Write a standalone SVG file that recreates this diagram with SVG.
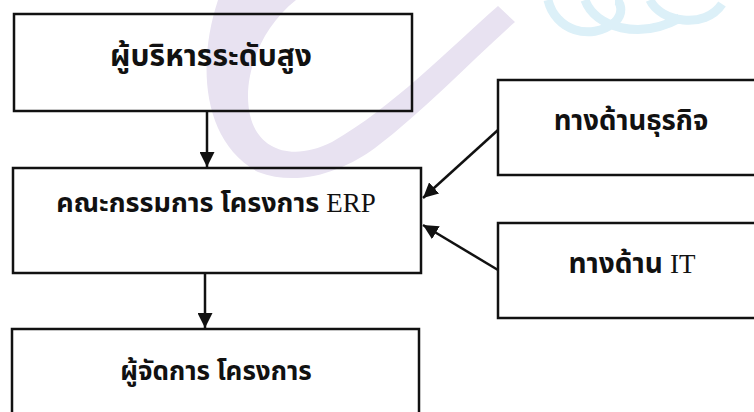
<svg xmlns="http://www.w3.org/2000/svg" width="754" height="412" viewBox="0 0 754 412">
<defs>
<style>
.box{fill:none;stroke:#111;stroke-width:2.5}
.th{font-family:"Noto Sans Thai","Noto Sans Thai UI","Tahoma","Noto Sans",sans-serif;font-weight:bold;font-size:30px;fill:#111;text-anchor:middle}
.lat{font-family:"Liberation Serif",serif;font-weight:normal;font-size:27px}
.con{stroke:#111;stroke-width:2.5;fill:none;marker-end:url(#ah)}
</style>
<marker id="ah" viewBox="0 0 10 10" refX="10" refY="5" markerWidth="6" markerHeight="6" markerUnits="strokeWidth" orient="auto">
<path d="M0,0 L10,5 L0,10 z" fill="#111"/>
</marker>
</defs>
<rect width="754" height="412" fill="#fff"/>
<g id="watermark">
<path d="M218,0 C198,60 200,140 258,172 C300,188 345,170 375,148 C425,110 470,62 515,22 L498,6 C450,48 392,108 332,142 C292,162 258,150 250,115 C242,80 258,30 296,0 Z" fill="#e8e2f1"/>
<path d="M548,0 C555,30 590,42 615,22 C625,12 620,0 615,0 M585,0 C595,28 640,40 680,18 M650,0 C660,22 705,30 722,4" stroke="#dcf0f8" stroke-width="9" fill="none"/>
</g>
<g id="n1"><rect class="box" x="14" y="14" width="398" height="97"/><text class="th" x="211" y="66">ผู้บริหารระดับสูง</text></g>
<g id="n2"><rect class="box" x="13" y="168" width="408" height="105"/><text class="th" x="216" y="212" style="font-size:27px">คณะกรรมการ โครงการ <tspan class="lat">ERP</tspan></text></g>
<g id="n3"><rect class="box" x="12" y="329" width="407" height="100"/><text class="th" x="216" y="380" style="font-size:26px">ผู้จัดการ โครงการ</text></g>
<g id="n4"><rect class="box" x="498" y="80" width="300" height="95"/><text class="th" x="631" y="130" style="font-size:27.5px">ทางด้านธุรกิจ</text></g>
<g id="n5"><rect class="box" x="498" y="223" width="300" height="95"/><text class="th" x="632" y="273" style="font-size:28px">ทางด้าน <tspan class="lat">IT</tspan></text></g>
<g id="connectors">
<line class="con" x1="207" y1="112" x2="207" y2="167"/>
<line class="con" x1="205" y1="274" x2="205" y2="328"/>
<line class="con" x1="498" y1="130" x2="423" y2="198"/>
<line class="con" x1="498" y1="270" x2="423" y2="225"/>
</g>
</svg>
